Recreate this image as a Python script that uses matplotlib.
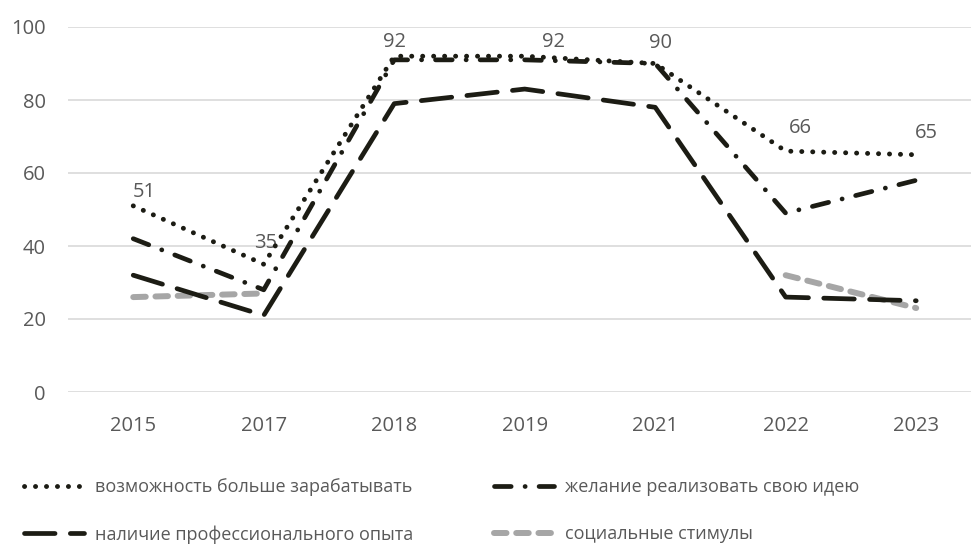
import matplotlib
matplotlib.use("Agg")
import matplotlib.pyplot as plt
import numpy as np

# Data
years = ["2015", "2017", "2018", "2019", "2021", "2022", "2023"]
earn_more = [51, 35, 92, 92, 90, 66, 65]
own_idea = [42, 28, 91, 91, 90, 49, 58]
prof_exp = [32, 21, 79, 83, 78, 26, 25]
social = [26, 27, None, None, None, 32, 23]

labels = [
    "возможность больше зарабатывать",
    "желание реализовать свою идею",
    "наличие профессионального опыта",
    "социальные стимулы",
]

# label offsets (pixels) for the value labels of the first series
label_dx = [11, 2, 0, 29, 5, 15, 10]
label_dy = [14, 21, 14, 14, 20, 23, 22]

plt.rcParams["font.family"] = ["Open Sans", "DejaVu Sans"]
plt.rcParams["lines.scale_dashes"] = False

text_col = "#595959"
dark = "#1c1c14"

fig = plt.figure(figsize=(9.71, 5.57), dpi=100)
ax = fig.add_axes([68 / 971, (557 - 392) / 557, (971 - 68) / 971, (392 - 27) / 557])

x = np.arange(len(years))
soc = np.array([np.nan if v is None else v for v in social], dtype=float)

l1, = ax.plot(x, earn_more, color=dark, lw=3.5, dashes=(0.1, 7.8),
              dash_capstyle="round", label=labels[0], zorder=5)
l2, = ax.plot(x, own_idea, color=dark, lw=3.4, dashes=(12, 10, 0.1, 10),
              dash_capstyle="round", label=labels[1], zorder=4)
l3, = ax.plot(x, prof_exp, color=dark, lw=3.4, dashes=(22, 11),
              dash_capstyle="round", label=labels[2], zorder=3)
l4, = ax.plot(x, soc, color="#a6a6a6", lw=4.3, dashes=(9, 7),
              dash_capstyle="round", label=labels[3], zorder=2)

for i, v in enumerate(earn_more):
    ax.annotate(str(v), (x[i], v), xytext=(label_dx[i], label_dy[i]),
                textcoords="offset pixels", ha="center", va="center",
                fontsize=14.5, color=text_col)

ax.set_ylim(0, 100)
ax.set_xlim(-0.5, 6.42)
ax.set_yticks(range(0, 101, 20))
ax.set_xticks(x)
ax.set_xticklabels(years)
ax.grid(axis="y", color="#d9d9d9", lw=1.2)
ax.set_axisbelow(True)
for s in ax.spines.values():
    s.set_visible(False)
ax.tick_params(length=0, labelsize=14.5, colors=text_col)
ax.tick_params(axis="x", pad=17)
ax.tick_params(axis="y", pad=16)

# row-wise order: columns filled top to bottom
leg = fig.legend(handles=[l1, l3, l2, l4], ncol=2, loc="upper left",
                 bbox_to_anchor=(8 / 971, 1 - 462 / 557), frameon=False,
                 handlelength=3.3, handletextpad=0.6, columnspacing=4.5,
                 labelspacing=1.6, prop={"size": 13})
for t in leg.get_texts():
    t.set_color(text_col)

fig.savefig("out.png", dpi=100)
